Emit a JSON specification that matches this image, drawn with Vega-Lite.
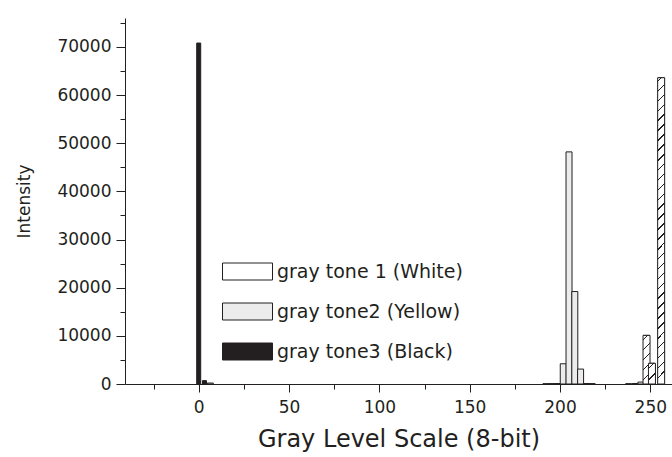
{
  "$schema": "https://vega.github.io/schema/vega-lite/v6.json",
  "width": 547,
  "height": 366,
  "autosize": {"type": "none"},
  "padding": {"left": 125, "top": 18, "right": 0, "bottom": 73},
  "background": "white",
  "config": {"view": {"stroke": null}, "font": "DejaVu Sans"},
  "data": {
    "values": [
      {"level": 0, "intensity": 70800, "tone": "gray tone3 (Black)"},
      {"level": 3.2, "intensity": 700, "tone": "gray tone3 (Black)"},
      {"level": 6.4, "intensity": 200, "tone": "gray tone2 (Yellow)"},
      {"level": 192.2, "intensity": 60, "tone": "gray tone2 (Yellow)"},
      {"level": 195.4, "intensity": 80, "tone": "gray tone2 (Yellow)"},
      {"level": 198.6, "intensity": 100, "tone": "gray tone2 (Yellow)"},
      {"level": 201.8, "intensity": 4200, "tone": "gray tone2 (Yellow)"},
      {"level": 205.0, "intensity": 48200, "tone": "gray tone2 (Yellow)"},
      {"level": 208.2, "intensity": 19200, "tone": "gray tone2 (Yellow)"},
      {"level": 211.4, "intensity": 3100, "tone": "gray tone2 (Yellow)"},
      {"level": 214.6, "intensity": 100, "tone": "gray tone2 (Yellow)"},
      {"level": 217.8, "intensity": 80, "tone": "gray tone2 (Yellow)"},
      {"level": 238.0, "intensity": 60, "tone": "gray tone 1 (White)"},
      {"level": 241.6, "intensity": 100, "tone": "gray tone 1 (White)"},
      {"level": 244.8, "intensity": 400, "tone": "gray tone 1 (White)"},
      {"level": 247.9, "intensity": 10100, "tone": "gray tone 1 (White)"},
      {"level": 250.9, "intensity": 4300, "tone": "gray tone 1 (White)"},
      {"level": 256.0, "intensity": 63600, "tone": "gray tone 1 (White)"}
    ]
  },
  "encoding": {
    "x": {
      "field": "level",
      "type": "quantitative",
      "title": "Gray Level Scale (8-bit)",
      "scale": {"domain": [-40.8, 262], "nice": false, "zero": false, "padding": 0},
      "axis": {
        "values": [-25, 0, 25, 50, 75, 100, 125, 150, 175, 200, 225, 250],
        "labelExpr": "datum.value % 50 === 0 ? datum.label : ''",
        "tickSize": {"condition": {"test": "datum.value % 50 !== 0", "value": 5}, "value": 8},
        "grid": false,
        "domainColor": "#231f20",
        "tickColor": "#231f20",
        "labelColor": "#231f20",
        "titleColor": "#231f20",
        "labelFontSize": 17,
        "titleFontSize": 24,
        "titleFontWeight": "normal",
        "labelPadding": 7,
        "titlePadding": 12,
        "labelFlush": false,
        "labelOverlap": false
      }
    },
    "y": {
      "field": "intensity",
      "type": "quantitative",
      "title": "Intensity",
      "stack": null,
      "scale": {"domain": [0, 76000], "nice": false, "padding": 0},
      "axis": {
        "values": [0, 5000, 10000, 15000, 20000, 25000, 30000, 35000, 40000, 45000, 50000, 55000, 60000, 65000, 70000, 75000],
        "labelExpr": "datum.value % 10000 === 0 ? datum.label : ''",
        "format": "d",
        "tickSize": {"condition": {"test": "datum.value % 10000 !== 0", "value": 5}, "value": 9},
        "grid": false,
        "domainColor": "#231f20",
        "tickColor": "#231f20",
        "labelColor": "#231f20",
        "titleColor": "#231f20",
        "labelFontSize": 17,
        "titleFontSize": 17,
        "titleFontWeight": "normal",
        "labelPadding": 5,
        "titlePadding": 23,
        "labelOverlap": false
      }
    }
  },
  "layer": [
    {
      "mark": {"type": "bar", "stroke": "#231f20", "strokeWidth": 1},
      "encoding": {
        "size": {"condition": {"test": "datum.tone === 'gray tone3 (Black)'", "value": 4}, "value": 6},
        "fill": {
          "field": "tone",
          "type": "nominal",
          "scale": {
            "domain": ["gray tone 1 (White)", "gray tone2 (Yellow)", "gray tone3 (Black)"],
            "range": ["#ffffff", "#ececec", "#231f20"]
          },
          "legend": {
            "orient": "none",
            "legendX": 97,
            "legendY": 228,
            "title": null,
            "symbolType": "M-1,-0.34H1V0.34H-1Z",
            "symbolSize": 2500,
            "symbolStrokeColor": "#231f20",
            "symbolStrokeWidth": 1,
            "labelFontSize": 19,
            "labelColor": "#231f20",
            "labelOffset": 4,
            "rowPadding": 4,
            "labelLimit": 400
          }
        }
      }
    },
    {
      "transform": [{"filter": "datum.tone === 'gray tone 1 (White)' && datum.intensity > 50000"}],
      "mark": {"type": "bar", "size": 7, "stroke": "#231f20", "strokeWidth": 1,
        "fill": {"gradient": "linear", "x1": 0, "y1": 0, "x2": 0.023, "y2": 1, "stops": [
          {"offset": 0, "color": "#fff"},
          {"offset": 0.01, "color": "#fff"}, {"offset": 0.01, "color": "#231f20"}, {"offset": 0.015, "color": "#231f20"}, {"offset": 0.015, "color": "#fff"},
          {"offset": 0.0423, "color": "#fff"}, {"offset": 0.0423, "color": "#231f20"}, {"offset": 0.0473, "color": "#231f20"}, {"offset": 0.0473, "color": "#fff"},
          {"offset": 0.0745, "color": "#fff"}, {"offset": 0.0745, "color": "#231f20"}, {"offset": 0.0795, "color": "#231f20"}, {"offset": 0.0795, "color": "#fff"},
          {"offset": 0.1068, "color": "#fff"}, {"offset": 0.1068, "color": "#231f20"}, {"offset": 0.1118, "color": "#231f20"}, {"offset": 0.1118, "color": "#fff"},
          {"offset": 0.139, "color": "#fff"}, {"offset": 0.139, "color": "#231f20"}, {"offset": 0.144, "color": "#231f20"}, {"offset": 0.144, "color": "#fff"},
          {"offset": 0.1713, "color": "#fff"}, {"offset": 0.1713, "color": "#231f20"}, {"offset": 0.1763, "color": "#231f20"}, {"offset": 0.1763, "color": "#fff"},
          {"offset": 0.2036, "color": "#fff"}, {"offset": 0.2036, "color": "#231f20"}, {"offset": 0.2086, "color": "#231f20"}, {"offset": 0.2086, "color": "#fff"},
          {"offset": 0.2358, "color": "#fff"}, {"offset": 0.2358, "color": "#231f20"}, {"offset": 0.2408, "color": "#231f20"}, {"offset": 0.2408, "color": "#fff"},
          {"offset": 0.2681, "color": "#fff"}, {"offset": 0.2681, "color": "#231f20"}, {"offset": 0.2731, "color": "#231f20"}, {"offset": 0.2731, "color": "#fff"},
          {"offset": 0.3003, "color": "#fff"}, {"offset": 0.3003, "color": "#231f20"}, {"offset": 0.3053, "color": "#231f20"}, {"offset": 0.3053, "color": "#fff"},
          {"offset": 0.3326, "color": "#fff"}, {"offset": 0.3326, "color": "#231f20"}, {"offset": 0.3376, "color": "#231f20"}, {"offset": 0.3376, "color": "#fff"},
          {"offset": 0.3649, "color": "#fff"}, {"offset": 0.3649, "color": "#231f20"}, {"offset": 0.3699, "color": "#231f20"}, {"offset": 0.3699, "color": "#fff"},
          {"offset": 0.3971, "color": "#fff"}, {"offset": 0.3971, "color": "#231f20"}, {"offset": 0.4021, "color": "#231f20"}, {"offset": 0.4021, "color": "#fff"},
          {"offset": 0.4294, "color": "#fff"}, {"offset": 0.4294, "color": "#231f20"}, {"offset": 0.4344, "color": "#231f20"}, {"offset": 0.4344, "color": "#fff"},
          {"offset": 0.4616, "color": "#fff"}, {"offset": 0.4616, "color": "#231f20"}, {"offset": 0.4666, "color": "#231f20"}, {"offset": 0.4666, "color": "#fff"},
          {"offset": 0.4939, "color": "#fff"}, {"offset": 0.4939, "color": "#231f20"}, {"offset": 0.4989, "color": "#231f20"}, {"offset": 0.4989, "color": "#fff"},
          {"offset": 0.5262, "color": "#fff"}, {"offset": 0.5262, "color": "#231f20"}, {"offset": 0.5312, "color": "#231f20"}, {"offset": 0.5312, "color": "#fff"},
          {"offset": 0.5584, "color": "#fff"}, {"offset": 0.5584, "color": "#231f20"}, {"offset": 0.5634, "color": "#231f20"}, {"offset": 0.5634, "color": "#fff"},
          {"offset": 0.5907, "color": "#fff"}, {"offset": 0.5907, "color": "#231f20"}, {"offset": 0.5957, "color": "#231f20"}, {"offset": 0.5957, "color": "#fff"},
          {"offset": 0.6229, "color": "#fff"}, {"offset": 0.6229, "color": "#231f20"}, {"offset": 0.6279, "color": "#231f20"}, {"offset": 0.6279, "color": "#fff"},
          {"offset": 0.6552, "color": "#fff"}, {"offset": 0.6552, "color": "#231f20"}, {"offset": 0.6602, "color": "#231f20"}, {"offset": 0.6602, "color": "#fff"},
          {"offset": 0.6875, "color": "#fff"}, {"offset": 0.6875, "color": "#231f20"}, {"offset": 0.6925, "color": "#231f20"}, {"offset": 0.6925, "color": "#fff"},
          {"offset": 0.7197, "color": "#fff"}, {"offset": 0.7197, "color": "#231f20"}, {"offset": 0.7247, "color": "#231f20"}, {"offset": 0.7247, "color": "#fff"},
          {"offset": 0.752, "color": "#fff"}, {"offset": 0.752, "color": "#231f20"}, {"offset": 0.757, "color": "#231f20"}, {"offset": 0.757, "color": "#fff"},
          {"offset": 0.7842, "color": "#fff"}, {"offset": 0.7842, "color": "#231f20"}, {"offset": 0.7892, "color": "#231f20"}, {"offset": 0.7892, "color": "#fff"},
          {"offset": 0.8165, "color": "#fff"}, {"offset": 0.8165, "color": "#231f20"}, {"offset": 0.8215, "color": "#231f20"}, {"offset": 0.8215, "color": "#fff"},
          {"offset": 0.8488, "color": "#fff"}, {"offset": 0.8488, "color": "#231f20"}, {"offset": 0.8538, "color": "#231f20"}, {"offset": 0.8538, "color": "#fff"},
          {"offset": 0.881, "color": "#fff"}, {"offset": 0.881, "color": "#231f20"}, {"offset": 0.886, "color": "#231f20"}, {"offset": 0.886, "color": "#fff"},
          {"offset": 0.9133, "color": "#fff"}, {"offset": 0.9133, "color": "#231f20"}, {"offset": 0.9183, "color": "#231f20"}, {"offset": 0.9183, "color": "#fff"},
          {"offset": 0.9455, "color": "#fff"}, {"offset": 0.9455, "color": "#231f20"}, {"offset": 0.9505, "color": "#231f20"}, {"offset": 0.9505, "color": "#fff"},
          {"offset": 0.9778, "color": "#fff"}, {"offset": 0.9778, "color": "#231f20"}, {"offset": 0.9828, "color": "#231f20"}, {"offset": 0.9828, "color": "#fff"},
          {"offset": 1, "color": "#fff"}
        ]}
      },
      "encoding": {}
    },
    {
      "transform": [{"filter": "datum.tone === 'gray tone 1 (White)' && datum.intensity > 8000 && datum.intensity < 50000"}],
      "mark": {"type": "bar", "size": 7, "stroke": "#231f20", "strokeWidth": 1,
        "fill": {"gradient": "linear", "x1": 0, "y1": 0, "x2": 0.144, "y2": 1, "stops": [
          {"offset": 0, "color": "#fff"},
          {"offset": 0.08, "color": "#fff"}, {"offset": 0.08, "color": "#231f20"}, {"offset": 0.11, "color": "#231f20"}, {"offset": 0.11, "color": "#fff"},
          {"offset": 0.28, "color": "#fff"}, {"offset": 0.28, "color": "#231f20"}, {"offset": 0.31, "color": "#231f20"}, {"offset": 0.31, "color": "#fff"},
          {"offset": 0.48, "color": "#fff"}, {"offset": 0.48, "color": "#231f20"}, {"offset": 0.51, "color": "#231f20"}, {"offset": 0.51, "color": "#fff"},
          {"offset": 0.68, "color": "#fff"}, {"offset": 0.68, "color": "#231f20"}, {"offset": 0.71, "color": "#231f20"}, {"offset": 0.71, "color": "#fff"},
          {"offset": 0.88, "color": "#fff"}, {"offset": 0.88, "color": "#231f20"}, {"offset": 0.91, "color": "#231f20"}, {"offset": 0.91, "color": "#fff"},
          {"offset": 1, "color": "#fff"}
        ]}
      },
      "encoding": {}
    },
    {
      "transform": [{"filter": "datum.tone === 'gray tone 1 (White)' && datum.intensity > 2000 && datum.intensity < 8000"}],
      "mark": {"type": "bar", "size": 7, "stroke": "#231f20", "strokeWidth": 1,
        "fill": {"gradient": "linear", "x1": 0, "y1": 0, "x2": 0.338, "y2": 1, "stops": [
          {"offset": 0, "color": "#fff"},
          {"offset": 0.2, "color": "#fff"}, {"offset": 0.2, "color": "#231f20"}, {"offset": 0.27, "color": "#231f20"}, {"offset": 0.27, "color": "#fff"},
          {"offset": 0.7, "color": "#fff"}, {"offset": 0.7, "color": "#231f20"}, {"offset": 0.77, "color": "#231f20"}, {"offset": 0.77, "color": "#fff"},
          {"offset": 1, "color": "#fff"}
        ]}
      },
      "encoding": {}
    }
  ]
}
